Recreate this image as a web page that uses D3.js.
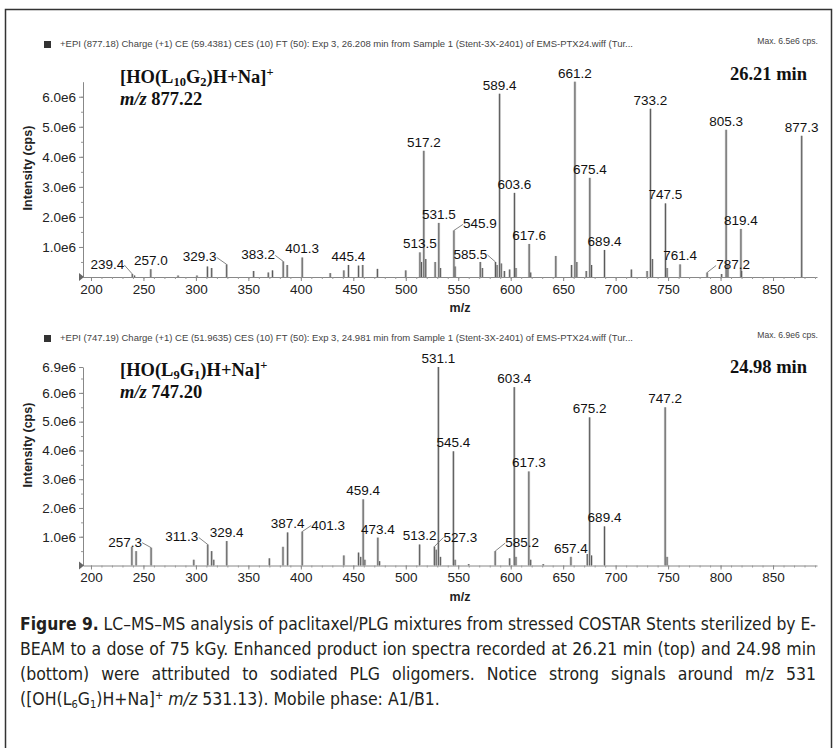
<!DOCTYPE html>
<html>
<head>
<meta charset="utf-8">
<script src="https://cdn.jsdelivr.net/npm/d3@7"></script>
<style>
  body { margin: 0; background: #fff; }
</style>
</head>
<body>
<div id="chart"></div>
<script>

// x axis (m/z)
var xTicks = [200, 250, 300, 350, 400, 450, 500, 550, 600, 650, 700, 750, 800, 850];

// top spectrum, 26.21 min, labelled peaks
var topMz = [239.4, 257.0, 329.3, 383.2, 401.3, 445.4, 513.5, 517.2, 531.5, 545.9, 585.5, 589.4,
             603.6, 617.6, 661.2, 675.4, 689.4, 733.2, 747.5, 761.4, 787.2, 805.3, 819.4, 877.3];
var topInt = [0.10e6, 0.26e6, 0.42e6, 0.52e6, 0.65e6, 0.40e6, 0.82e6, 4.2e6, 1.8e6, 1.55e6, 0.50e6, 6.1e6,
              2.8e6, 1.1e6, 6.5e6, 3.3e6, 0.90e6, 5.6e6, 2.45e6, 0.42e6, 0.15e6, 4.9e6, 1.6e6, 4.7e6];
// top spectrum, small unlabelled peaks
var topMinorMz = [241.5, 283, 301, 311, 315, 355, 369, 373, 387, 428, 441, 455, 459, 473, 500, 515, 519,
                  528, 533, 547, 571, 573, 587, 591, 594, 599, 605, 619, 643, 658, 663, 672, 677, 715,
                  730, 735, 749, 801, 807, 820];
var topMinorInt = [0.05e6, 0.05e6, 0.05e6, 0.35e6, 0.30e6, 0.20e6, 0.15e6, 0.22e6, 0.40e6, 0.13e6, 0.22e6,
                   0.38e6, 0.40e6, 0.27e6, 0.22e6, 0.50e6, 0.60e6, 0.50e6, 0.30e6, 0.35e6, 0.50e6, 0.30e6,
                   0.40e6, 0.45e6, 0.20e6, 0.25e6, 0.30e6, 0.15e6, 0.70e6, 0.40e6, 0.50e6, 0.20e6, 0.40e6,
                   0.25e6, 0.20e6, 0.60e6, 0.30e6, 0.10e6, 0.40e6, 0.20e6];

// bottom spectrum, 24.98 min, labelled peaks
var botMz = [257.3, 311.3, 329.4, 387.4, 401.3, 459.4, 473.4, 513.2, 527.3, 531.1, 545.4, 585.2,
             603.4, 617.3, 657.4, 675.2, 689.4, 747.2];
var botInt = [0.62e6, 0.73e6, 0.85e6, 1.15e6, 1.18e6, 2.3e6, 0.97e6, 0.73e6, 0.66e6, 6.9e6, 3.97e6, 0.50e6,
              6.2e6, 3.27e6, 0.30e6, 5.15e6, 1.36e6, 5.5e6];
var botMinorMz = [239, 243, 298, 315, 317, 370, 383, 441, 455, 457, 461, 475, 529, 533, 547, 560,
                  599, 605, 619, 631, 673, 677, 749];
var botMinorInt = [0.65e6, 0.50e6, 0.20e6, 0.50e6, 0.20e6, 0.25e6, 0.65e6, 0.35e6, 0.45e6, 0.30e6, 0.20e6,
                   0.15e6, 0.55e6, 0.30e6, 0.20e6, 0.05e6, 0.25e6, 0.30e6, 0.20e6, 0.05e6, 0.40e6,
                   0.35e6, 0.30e6];

var topYTicks = [1e6, 2e6, 3e6, 4e6, 5e6, 6e6];
var botYTicks = [1e6, 2e6, 3e6, 4e6, 5e6, 6e6, 6.9e6];

// labels that sit beside their peak with a leader line: [dx, dy]
var topShift = { "239.4": [-25, -5], "329.3": [-27, -3], "383.2": [-25, -2], "545.9": [26, -2],
                 "585.5": [-25, -3], "787.2": [26, -3] };
var botShift = { "257.3": [-26, -1], "311.3": [-26, -3], "401.3": [26, -2], "527.3": [26, -5],
                 "585.2": [27, -4] };

var sans = 'Arial, "Liberation Sans", sans-serif';
var serif = '"Liberation Serif", "Times New Roman", serif';

var W = 834, H = 748;
var svg = d3.select('#chart').append('svg')
    .attr('width', W)
    .attr('height', H)
    .attr('font-family', sans);

// outer frame
svg.append('rect')
    .attr('x', 5.5).attr('y', 9.5)
    .attr('width', 826).attr('height', 745)
    .attr('fill', 'none').attr('stroke', '#333').attr('stroke-width', 1.5);

var x = d3.scaleLinear().domain([192.4, 891.9]).range([83, 817]);

function fmt(d) { return (d / 1e6).toFixed(1) + 'e6'; }

function drawPanel(p) {
    var y = d3.scaleLinear().domain([0, p.yMax]).range([p.y0, p.y1]);
    var g = svg.append('g');

    // header line
    g.append('rect').attr('x', 44).attr('y', p.head - 6).attr('width', 7).attr('height', 7).attr('fill', '#333');
    g.append('text').attr('x', 60).attr('y', p.head)
        .attr('font-size', 8.6).attr('fill', '#444')
        .attr('textLength', 573).attr('lengthAdjust', 'spacingAndGlyphs')
        .text(p.info);
    g.append('text').attr('x', 818).attr('y', p.head - 3)
        .attr('font-size', 8.6).attr('fill', '#444').attr('text-anchor', 'end')
        .text(p.maxText);

    // axes
    var xa = g.append('g').attr('transform', 'translate(0,' + p.y0 + ')')
        .call(d3.axisBottom(x).tickValues(d3.range(200, 891, 10)).tickSize(2).tickFormat('').tickSizeOuter(0));
    xa.select('.domain').attr('stroke', '#888');
    xa.selectAll('line').attr('stroke', '#999');
    var xb = g.append('g').attr('transform', 'translate(0,' + p.y0 + ')')
        .call(d3.axisBottom(x).tickValues(xTicks).tickSize(4).tickPadding(3).tickSizeOuter(0));
    xb.select('.domain').remove();
    xb.selectAll('line').attr('stroke', '#888');
    xb.selectAll('text').attr('font-size', 13.5).attr('fill', '#222').attr('font-family', sans);

    var ya = g.append('g').attr('transform', 'translate(83,0)')
        .call(d3.axisLeft(y).tickValues(d3.range(0.5e6, p.yMax, 0.5e6)).tickSize(2).tickFormat('').tickSizeOuter(0));
    ya.select('.domain').attr('stroke', '#888');
    ya.selectAll('line').attr('stroke', '#999');
    var yb = g.append('g').attr('transform', 'translate(83,0)')
        .call(d3.axisLeft(y).tickValues(p.yTicks).tickSize(4).tickPadding(3).tickFormat(fmt).tickSizeOuter(0));
    yb.select('.domain').remove();
    yb.selectAll('line').attr('stroke', '#888');
    yb.selectAll('text').attr('font-size', 13.5).attr('fill', '#222').attr('font-family', sans);

    // little start marker on the baseline
    g.append('path')
        .attr('d', 'M79,' + (p.y0 - 4) + 'L84,' + p.y0 + 'L79,' + (p.y0 + 4) + 'Z')
        .attr('fill', '#666');

    g.append('text')
        .attr('transform', 'translate(32,' + p.ylabY + ') rotate(-90)')
        .attr('text-anchor', 'middle').attr('font-size', 12.5).attr('font-weight', 'bold').attr('fill', '#222')
        .text('Intensity (cps)');
    g.append('text').attr('x', 460).attr('y', p.y0 + 35)
        .attr('text-anchor', 'middle').attr('font-size', 12.5).attr('font-weight', 'bold').attr('fill', '#222')
        .text('m/z');

    // peaks
    var minor = p.minorMz.map(function(m, i) { return { mz: m, v: p.minorInt[i] }; });
    var major = p.mz.map(function(m, i) { return { mz: m, v: p.int[i], lab: m.toFixed(1) }; });
    var all = minor.concat(major);

    g.selectAll('line.halo').data(all).enter().append('line')
        .attr('x1', function(d) { return x(d.mz); })
        .attr('x2', function(d) { return x(d.mz); })
        .attr('y1', p.y0)
        .attr('y2', function(d) { return y(d.v); })
        .attr('stroke', '#c8c8c8').attr('stroke-width', 2.6);
    g.selectAll('line.peak').data(all).enter().append('line')
        .attr('x1', function(d) { return x(d.mz); })
        .attr('x2', function(d) { return x(d.mz); })
        .attr('y1', p.y0)
        .attr('y2', function(d) { return y(d.v); })
        .attr('stroke', '#5a5a5a').attr('stroke-width', 1);

    major.forEach(function(d) {
        var px = x(d.mz), py = y(d.v);
        var s = p.shift[d.lab];
        if (s) {
            var sg = s[0] < 0 ? -1 : 1;
            g.append('line')
                .attr('x1', px).attr('y1', py)
                .attr('x2', px + sg * (Math.abs(s[0]) - 17)).attr('y2', py + s[1] - 4)
                .attr('stroke', '#666').attr('stroke-width', 0.8);
            g.append('text').attr('x', px + s[0]).attr('y', py + s[1])
                .attr('text-anchor', 'middle').attr('font-size', 13.5).attr('fill', '#111')
                .text(d.lab);
        } else {
            g.append('text').attr('x', px).attr('y', py - 4)
                .attr('text-anchor', 'middle').attr('font-size', 13.5).attr('fill', '#111')
                .text(d.lab);
        }
    });

    // ion annotation
    var t = g.append('text').attr('x', 120).attr('y', p.titleY)
        .attr('font-family', serif)
        .attr('font-weight', 'bold').attr('font-size', 18.5).attr('fill', '#111');
    t.append('tspan').text('[HO(L');
    t.append('tspan').attr('font-size', 12.5).attr('dy', 3).text(p.sub1);
    t.append('tspan').attr('dy', -3).text('G');
    t.append('tspan').attr('font-size', 12.5).attr('dy', 3).text(p.sub2);
    t.append('tspan').attr('dy', -3).text(')H+Na]');
    t.append('tspan').attr('font-size', 12.5).attr('dy', -7).text('+');

    var m = g.append('text').attr('x', 120).attr('y', p.titleY + 22)
        .attr('font-family', serif)
        .attr('font-weight', 'bold').attr('font-size', 18.5).attr('fill', '#111');
    m.append('tspan').attr('font-style', 'italic').text('m/z');
    m.append('tspan').text(' ' + p.precursor);

    g.append('text').attr('x', 807).attr('y', p.titleY - 3)
        .attr('text-anchor', 'end')
        .attr('font-family', serif)
        .attr('font-weight', 'bold').attr('font-size', 18.5).attr('fill', '#111')
        .text(p.time);
}

drawPanel({
    yMax: 6.5e6, y0: 277, y1: 81.7, yTicks: topYTicks, head: 47, ylabY: 168, titleY: 83,
    info: '+EPI (877.18) Charge (+1) CE (59.4381) CES (10) FT (50): Exp 3, 26.208 min from Sample 1 (Stent-3X-2401) of EMS-PTX24.wiff (Tur...',
    maxText: 'Max. 6.5e6 cps.',
    mz: topMz, int: topInt, minorMz: topMinorMz, minorInt: topMinorInt, shift: topShift,
    sub1: '10', sub2: '2', precursor: '877.22', time: '26.21 min'
});

drawPanel({
    yMax: 6.9e6, y0: 565.5, y1: 367, yTicks: botYTicks, head: 341, ylabY: 445, titleY: 376,
    info: '+EPI (747.19) Charge (+1) CE (51.9635) CES (10) FT (50): Exp 3, 24.981 min from Sample 1 (Stent-3X-2401) of EMS-PTX24.wiff (Tur...',
    maxText: 'Max. 6.9e6 cps.',
    mz: botMz, int: botInt, minorMz: botMinorMz, minorInt: botMinorInt, shift: botShift,
    sub1: '9', sub2: '1', precursor: '747.20', time: '24.98 min'
});

// caption, justified lines are stretched with word spacing (or squeezed if too long)
var capFont = '"Liberation Sans Narrow", "DejaVu Sans Condensed", "Roboto Condensed", sans-serif';
var cap = svg.append('g').attr('font-family', capFont).attr('font-size', 17.5).attr('fill', '#231f20');

function justify(sel, width) {
    var node = sel.node();
    var w = node.getComputedTextLength();
    var spaces = (node.textContent.match(/ /g) || []).length;
    if (spaces > 0 && w < width) sel.attr('word-spacing', (width - w) / spaces);
    else if (w > width) sel.attr('textLength', width).attr('lengthAdjust', 'spacingAndGlyphs');
}

var c1 = cap.append('text').attr('x', 20).attr('y', 630);
c1.append('tspan').attr('font-weight', 'bold').text('Figure 9.');
c1.append('tspan').text(' LC–MS–MS analysis of paclitaxel/PLG mixtures from stressed COSTAR Stents sterilized by E-');
justify(c1, 796);
var c2 = cap.append('text').attr('x', 20).attr('y', 655)
    .text('BEAM to a dose of 75 kGy. Enhanced product ion spectra recorded at 26.21 min (top) and 24.98 min');
justify(c2, 796);
var c3 = cap.append('text').attr('x', 20).attr('y', 680)
    .text('(bottom) were attributed to sodiated PLG oligomers. Notice strong signals around m/z 531');
justify(c3, 796);
var c4 = cap.append('text').attr('x', 20).attr('y', 705);
c4.append('tspan').text('([OH(L');
c4.append('tspan').attr('font-size', 11).attr('dy', 3).text('6');
c4.append('tspan').attr('dy', -3).text('G');
c4.append('tspan').attr('font-size', 11).attr('dy', 3).text('1');
c4.append('tspan').attr('dy', -3).text(')H+Na]');
c4.append('tspan').attr('font-size', 11).attr('dy', -6).text('+');
c4.append('tspan').attr('dy', 6).text(' ');
c4.append('tspan').attr('font-style', 'italic').text('m/z');
c4.append('tspan').text(' 531.13). Mobile phase: A1/B1.');

</script>
</body>
</html>
